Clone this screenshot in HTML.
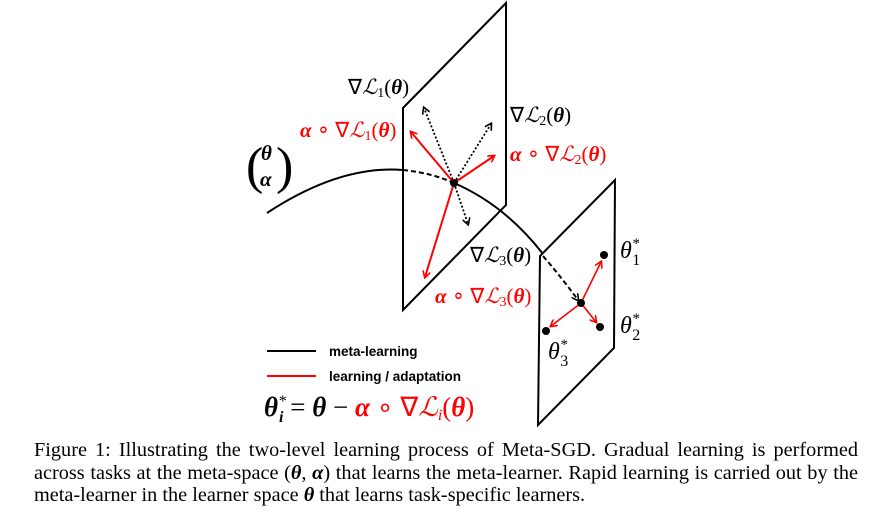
<!DOCTYPE html>
<html><head><meta charset="utf-8"><style>
body{margin:0;background:#fff;width:878px;height:521px;overflow:hidden}
svg{position:absolute;left:0;top:0}
.m{font-family:"Liberation Serif",serif}
.b{font-weight:bold}
.cap{position:absolute;left:34px;top:439px;width:824px;font-family:"Liberation Serif",serif;font-size:20.3px;line-height:22.5px;color:#000}
.cap div{text-align:justify;text-align-last:justify;white-space:nowrap}
.cap div.l{text-align-last:left}
</style></head><body>
<svg width="878" height="521">
<defs>
<marker id="ar" markerWidth="8" markerHeight="8" refX="6" refY="4" orient="auto" markerUnits="userSpaceOnUse"><path d="M0,0 L7,4 L0,8" fill="none" stroke="red" stroke-width="1.6"/></marker>
<marker id="ak" markerWidth="8" markerHeight="8" refX="6" refY="4" orient="auto" markerUnits="userSpaceOnUse"><path d="M0,0 L7,4 L0,8" fill="none" stroke="#000" stroke-width="1.6"/></marker>
</defs>
<path d="M267,213 Q340,165 403,170" fill="none" stroke="#000" stroke-width="2"/>
<path d="M403,170 Q432,173 454,183" fill="none" stroke="#000" stroke-width="2" stroke-dasharray="5,3"/>
<polygon points="403,108 506,3 506,205 403,310" fill="none" stroke="#000" stroke-width="2"/>
<path d="M454,183 Q505,205 543,254" fill="none" stroke="#000" stroke-width="2"/>
<polygon points="540,256 615,180 614,348 538,425" fill="none" stroke="#000" stroke-width="2"/>
<path d="M543,256 Q562,278 578,300" fill="none" stroke="#000" stroke-width="2" stroke-dasharray="5,3" marker-end="url(#ak)"/>
<g stroke="#000" stroke-width="1.8" stroke-dasharray="2,2" fill="none">
<line x1="454" y1="183" x2="424" y2="108" marker-end="url(#ak)"/>
<line x1="454" y1="183" x2="491" y2="124" marker-end="url(#ak)"/>
<line x1="454" y1="183" x2="468" y2="224" marker-end="url(#ak)"/>
</g>
<g stroke="red" stroke-width="2" fill="none">
<line x1="454" y1="183" x2="411" y2="132" marker-end="url(#ar)"/>
<line x1="454" y1="183" x2="494" y2="156" marker-end="url(#ar)"/>
<line x1="454" y1="183" x2="425" y2="277" marker-end="url(#ar)"/>
</g>
<circle cx="454" cy="183" r="4" fill="#000"/>
<g stroke="red" stroke-width="1.6" fill="none">
<line x1="581" y1="303" x2="601" y2="262" marker-end="url(#ar)"/>
<line x1="581" y1="303" x2="596" y2="322" marker-end="url(#ar)"/>
<line x1="581" y1="303" x2="551" y2="326" marker-end="url(#ar)"/>
</g>
<circle cx="581" cy="303" r="4" fill="#000"/>
<circle cx="604" cy="255" r="4" fill="#000"/>
<circle cx="600" cy="327" r="4" fill="#000"/>
<circle cx="546" cy="331" r="4" fill="#000"/>
<text class="m" x="246" y="183" style="font-size:52px;font-weight:100">(</text>
<text class="m b" x="261" y="160" style="font-size:21px;font-style:italic">θ</text>
<text class="m b" x="260" y="186" style="font-size:21px;font-style:italic">α</text>
<text class="m" x="276" y="183" style="font-size:52px;font-weight:100">)</text>
<g class="m" style="font-size:21px">
<text x="348" y="94">∇<tspan font-style="italic">ℒ</tspan><tspan style="font-size:14px" dy="3">1</tspan><tspan dy="-3">(</tspan><tspan class="b" font-style="italic">θ</tspan>)</text>
<text x="300" y="137" fill="red"><tspan class="b" font-style="italic">α</tspan> ∘ ∇<tspan font-style="italic">ℒ</tspan><tspan style="font-size:14px" dy="3">1</tspan><tspan dy="-3">(</tspan><tspan class="b" font-style="italic">θ</tspan>)</text>
<text x="510" y="122">∇<tspan font-style="italic">ℒ</tspan><tspan style="font-size:14px" dy="3">2</tspan><tspan dy="-3">(</tspan><tspan class="b" font-style="italic">θ</tspan>)</text>
<text x="510" y="161" fill="red"><tspan class="b" font-style="italic">α</tspan> ∘ ∇<tspan font-style="italic">ℒ</tspan><tspan style="font-size:14px" dy="3">2</tspan><tspan dy="-3">(</tspan><tspan class="b" font-style="italic">θ</tspan>)</text>
<text x="470" y="262">∇<tspan font-style="italic">ℒ</tspan><tspan style="font-size:14px" dy="3">3</tspan><tspan dy="-3">(</tspan><tspan class="b" font-style="italic">θ</tspan>)</text>
<text x="435" y="303" fill="red"><tspan class="b" font-style="italic">α</tspan> ∘ ∇<tspan font-style="italic">ℒ</tspan><tspan style="font-size:14px" dy="3">3</tspan><tspan dy="-3">(</tspan><tspan class="b" font-style="italic">θ</tspan>)</text>
<text x="620" y="258" style="font-size:24px;font-style:italic">θ<tspan style="font-size:15px" dy="-10">*</tspan><tspan style="font-size:16px;font-style:normal" dx="-7" dy="17">1</tspan></text>
<text x="620" y="333" style="font-size:24px;font-style:italic">θ<tspan style="font-size:15px" dy="-10">*</tspan><tspan style="font-size:16px;font-style:normal" dx="-7" dy="17">2</tspan></text>
<text x="548" y="359" style="font-size:24px;font-style:italic">θ<tspan style="font-size:15px" dy="-10">*</tspan><tspan style="font-size:16px;font-style:normal" dx="-7" dy="17">3</tspan></text>
</g>
<line x1="267" y1="351" x2="316" y2="351" stroke="#000" stroke-width="2"/>
<text x="329" y="356" font-family="Liberation Sans,sans-serif" font-size="13.5" font-weight="bold">meta-learning</text>
<line x1="267" y1="376" x2="316" y2="376" stroke="red" stroke-width="2"/>
<text x="329" y="381" font-family="Liberation Sans,sans-serif" font-size="13.5" font-weight="bold">learning / adaptation</text>
<text class="m" x="264" y="416" style="font-size:27px"><tspan class="b" font-style="italic">θ</tspan><tspan style="font-size:16px" dy="-10" font-style="italic">*</tspan><tspan style="font-size:16px" dx="-7" dy="16" class="b" font-style="italic">i</tspan><tspan dy="-6"> = </tspan><tspan class="b" font-style="italic">θ</tspan> − <tspan fill="red"><tspan class="b" font-style="italic">α</tspan> ∘ ∇<tspan font-style="italic">ℒ</tspan><tspan style="font-size:16px" dy="4" font-style="italic">i</tspan><tspan dy="-4">(</tspan><tspan class="b" font-style="italic">θ</tspan>)</tspan></text>
</svg>
<div class="cap"><div>Figure 1: Illustrating the two-level learning process of Meta-SGD. Gradual learning is performed</div><div>across tasks at the meta-space (<b><i>θ</i></b>, <b><i>α</i></b>) that learns the meta-learner. Rapid learning is carried out by the</div><div class="l">meta-learner in the learner space <b><i>θ</i></b> that learns task-specific learners.</div></div>
</body></html>
